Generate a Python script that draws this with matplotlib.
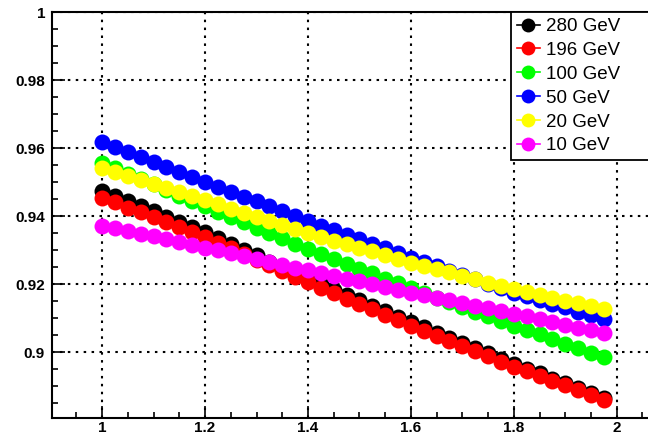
import matplotlib
matplotlib.use("Agg")
import matplotlib.pyplot as plt
from matplotlib.ticker import MultipleLocator, AutoMinorLocator
from matplotlib.lines import Line2D

plt.rcParams['font.family'] = ['Liberation Sans', 'DejaVu Sans']

# -------------------- data --------------------
x = [1.0 + 0.025 * i for i in range(40)]

labels = ["280 GeV", "196 GeV", "100 GeV", "50 GeV", "20 GeV", "10 GeV"]
colors = ["#000000", "#ff0000", "#00ff00", "#0000ff", "#ffff00", "#ff00ff"]

e280 = [0.9475, 0.9460, 0.9444, 0.9429, 0.9414, 0.9398, 0.9383, 0.9367, 0.9352, 0.9335,
        0.9318, 0.9301, 0.9284, 0.9266, 0.9249, 0.9232, 0.9215, 0.9199, 0.9183, 0.9167,
        0.9152, 0.9136, 0.9120, 0.9104, 0.9088, 0.9073, 0.9057, 0.9042, 0.9027, 0.9011,
        0.8996, 0.8980, 0.8965, 0.8951, 0.8937, 0.8922, 0.8908, 0.8894, 0.8879, 0.8865]
e196 = [0.9454, 0.9440, 0.9425, 0.9411, 0.9396, 0.9382, 0.9367, 0.9353, 0.9338, 0.9321,
        0.9305, 0.9288, 0.9272, 0.9255, 0.9238, 0.9222, 0.9205, 0.9189, 0.9173, 0.9157,
        0.9142, 0.9126, 0.9110, 0.9094, 0.9078, 0.9063, 0.9048, 0.9033, 0.9018, 0.9002,
        0.8987, 0.8972, 0.8957, 0.8943, 0.8929, 0.8915, 0.8902, 0.8888, 0.8874, 0.8860]
e100 = [0.9557, 0.9541, 0.9525, 0.9509, 0.9493, 0.9476, 0.9460, 0.9444, 0.9428, 0.9412,
        0.9397, 0.9381, 0.9366, 0.9350, 0.9334, 0.9319, 0.9303, 0.9289, 0.9274, 0.9260,
        0.9245, 0.9231, 0.9216, 0.9202, 0.9187, 0.9173, 0.9160, 0.9146, 0.9133, 0.9119,
        0.9105, 0.9092, 0.9078, 0.9065, 0.9052, 0.9038, 0.9025, 0.9012, 0.8998, 0.8985]
e50 = [0.9618, 0.9603, 0.9588, 0.9574, 0.9559, 0.9544, 0.9530, 0.9515, 0.9500, 0.9486,
       0.9471, 0.9457, 0.9443, 0.9428, 0.9414, 0.9399, 0.9385, 0.9372, 0.9358, 0.9345,
       0.9332, 0.9318, 0.9305, 0.9291, 0.9278, 0.9265, 0.9252, 0.9239, 0.9226, 0.9214,
       0.9201, 0.9188, 0.9175, 0.9164, 0.9153, 0.9142, 0.9131, 0.9119, 0.9108, 0.9097]
e20 = [0.9542, 0.9530, 0.9518, 0.9506, 0.9494, 0.9482, 0.9470, 0.9458, 0.9446, 0.9434,
       0.9422, 0.9410, 0.9398, 0.9386, 0.9374, 0.9362, 0.9350, 0.9339, 0.9328, 0.9317,
       0.9307, 0.9296, 0.9285, 0.9274, 0.9263, 0.9253, 0.9243, 0.9234, 0.9224, 0.9214,
       0.9204, 0.9195, 0.9185, 0.9177, 0.9168, 0.9160, 0.9151, 0.9143, 0.9134, 0.9126]
e10 = [0.9372, 0.9364, 0.9356, 0.9348, 0.9340, 0.9331, 0.9323, 0.9315, 0.9307, 0.9299,
       0.9290, 0.9282, 0.9274, 0.9265, 0.9257, 0.9248, 0.9240, 0.9232, 0.9224, 0.9216,
       0.9208, 0.9199, 0.9191, 0.9183, 0.9175, 0.9167, 0.9159, 0.9152, 0.9144, 0.9136,
       0.9129, 0.9121, 0.9113, 0.9105, 0.9097, 0.9089, 0.9080, 0.9072, 0.9064, 0.9056]

series = [e280, e196, e100, e50, e20, e10]

# -------------------- figure --------------------
W, H = 648, 436
fig = plt.figure(figsize=(W / 100, H / 100), dpi=100)
# axes frame in pixels: left 52, right ~654 (cut off), top 12, bottom 418
ax = fig.add_axes([52 / W, 1 - 418 / H, (654 - 52) / W, (418 - 12) / H])

for y, c, lab in zip(series, colors, labels):
    ax.plot(x, y, linestyle='none', marker='o', markersize=11.5,
            markerfacecolor=c, markeredgewidth=0, zorder=3, label=lab)

ax.set_xlim(0.9025, 2.0725)
ax.set_ylim(0.8806, 1.0)

ax.xaxis.set_major_locator(MultipleLocator(0.2))
ax.xaxis.set_minor_locator(AutoMinorLocator(4))
ax.yaxis.set_major_locator(MultipleLocator(0.02))
ax.yaxis.set_minor_locator(AutoMinorLocator(4))
ax.xaxis.set_major_formatter(plt.FuncFormatter(lambda v, p: f"{v:g}"))
ax.yaxis.set_major_formatter(plt.FuncFormatter(lambda v, p: f"{v:g}"))

ax.tick_params(which='major', direction='in', length=9, width=1.2,
               top=False, right=False, labelsize=11)
ax.tick_params(axis='x', which='major', pad=2.5)
ax.tick_params(axis='y', which='major', pad=5)
ax.tick_params(which='minor', direction='in', length=4.5, width=1.2,
               top=False, right=False)
for t in ax.get_xticklabels() + ax.get_yticklabels():
    t.set_fontweight('bold')

ax.grid(True, which='major', color='black', linestyle=(0, (1.2, 2.6)),
        linewidth=1.5, zorder=1)
ax.set_axisbelow(True)

for s in ax.spines.values():
    s.set_linewidth(1.5)

# legend with line through marker, like ROOT "lp"
handles = [Line2D([], [], color=c, marker='o', markersize=10, markeredgewidth=0,
                  linewidth=1.2) for c in colors]
leg = fig.legend(handles, labels, loc='upper left',
                 bbox_to_anchor=(511 / W, 1 - 157 / H, (649 - 511) / W, (157 - 12) / H),
                 mode='expand', borderaxespad=0, fontsize=13.5, frameon=True,
                 fancybox=False, edgecolor='black', framealpha=1,
                 handlelength=1.2, handletextpad=0.32, labelspacing=0.36,
                 borderpad=0.32)
leg.get_frame().set_linewidth(1.3)

fig.savefig("out.png", dpi=100)
